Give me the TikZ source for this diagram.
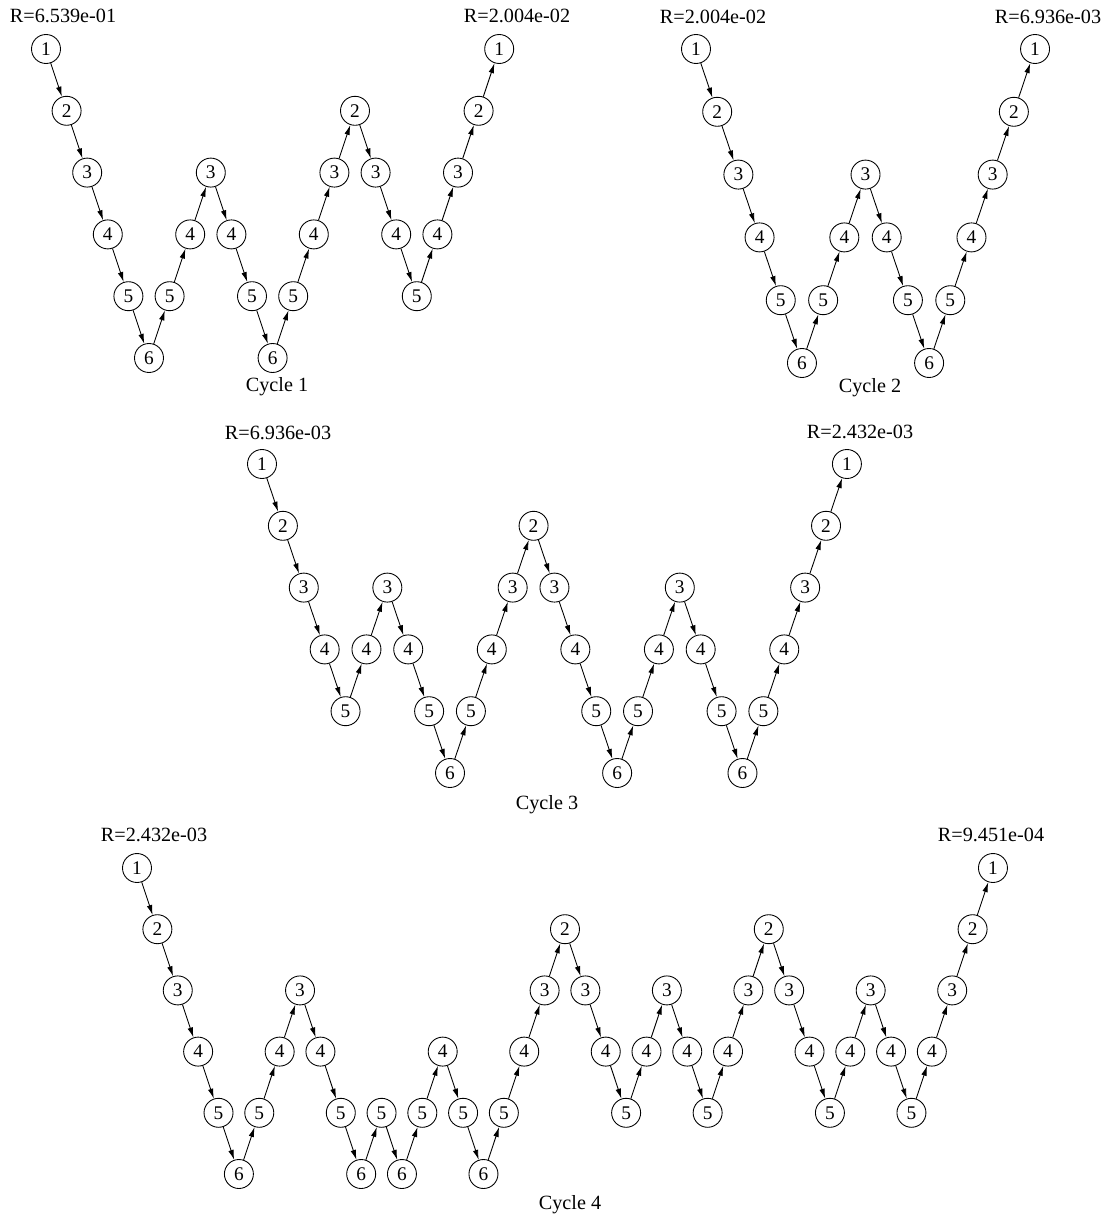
\documentclass[tikz,border=0pt]{standalone}
\usepackage{fontspec}
\setmainfont{Liberation Serif}
\usetikzlibrary{arrows.meta}

\begin{document}
\begin{tikzpicture}[
    x=0.02cm, y=-0.02cm,
    lvl/.style={draw, circle, minimum size=0.58cm, inner sep=0pt, line width=0.5pt, font=\fontsize{11}{12}\selectfont},
    res/.style={font=\fontsize{11.5}{13}\selectfont},
    caption/.style={font=\fontsize{11.5}{13}\selectfont},
    arrow/.style={-{Latex[length=2mm,width=1.1mm]}, line width=0.5pt}
]
\useasboundingbox (0,0) rectangle (1111,1216);

% cycle 1
\foreach \lv [count=\i from 0] in {1,2,3,4,5,6,5,4,3,4,5,6,5,4,3,2,3,4,5,4,3,2,1}
  \node[lvl] (ca\i) at (46+20.6*\i, 49+61.8*\lv-61.8) {\lv};
\foreach \i [count=\j] in {0,...,21}
  \draw[arrow] (ca\i) -- (ca\j);
\node[res] (ra) at (63,16) {R=6.539e-01};
\node[res] (rb) at (517,16) {R=2.004e-02};
\node[caption] (capa) at (277,387) {Cycle 1};

% cycle 2
\foreach \lv [count=\i from 0] in {1,2,3,4,5,6,5,4,3,4,5,6,5,4,3,2,1}
  \node[lvl] (cb\i) at (696+21.19*\i, 49+62.8*\lv-62.8) {\lv};
\foreach \i [count=\j] in {0,...,15}
  \draw[arrow] (cb\i) -- (cb\j);
\node[res] (rc) at (713,17) {R=2.004e-02};
\node[res] (rd) at (1048,17) {R=6.936e-03};
\node[caption] (capb) at (870,388) {Cycle 2};

% cycle 3
\foreach \lv [count=\i from 0] in {1,2,3,4,5,4,3,4,5,6,5,4,3,2,3,4,5,6,5,4,3,4,5,6,5,4,3,2,1}
  \node[lvl] (cc\i) at (262+20.89*\i, 464+61.8*\lv-61.8) {\lv};
\foreach \i [count=\j] in {0,...,27}
  \draw[arrow] (cc\i) -- (cc\j);
\node[res] (re) at (278,433) {R=6.936e-03};
\node[res] (rf) at (860,432) {R=2.432e-03};
\node[caption] (capc) at (547,805) {Cycle 3};

% cycle 4
\foreach \lv [count=\i from 0] in {1,2,3,4,5,6,5,4,3,4,5,6,5,6,5,4,5,6,5,4,3,2,3,4,5,4,3,4,5,4,3,2,3,4,5,4,3,4,5,4,3,2,1}
  \node[lvl] (cd\i) at (137+20.38*\i, 868+61.2*\lv-61.2) {\lv};
\foreach \i [count=\j] in {0,...,41}
  \draw[arrow] (cd\i) -- (cd\j);
\node[res] (rg) at (154,835) {R=2.432e-03};
\node[res] (rh) at (991,835) {R=9.451e-04};
\node[caption] (capd) at (570,1205) {Cycle 4};
\end{tikzpicture}
\end{document}
